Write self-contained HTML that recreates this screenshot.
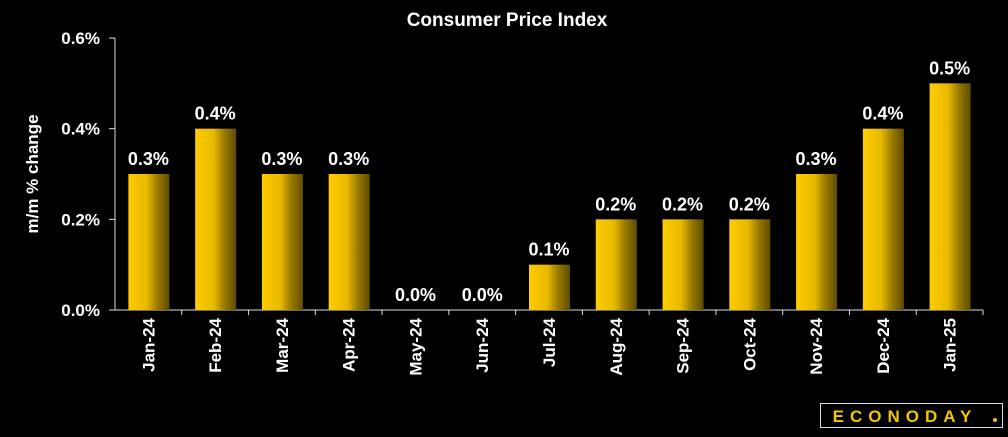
<!DOCTYPE html>
<html><head><meta charset="utf-8"><style>
body{margin:0;background:#000;width:1008px;height:432px;overflow:hidden;font-family:"Liberation Sans",sans-serif}
svg text{font-family:"Liberation Sans",sans-serif;font-weight:bold;fill:#fff}
</style></head><body>
<svg id="c" width="1008" height="432">
<defs><linearGradient id="g" x1="0" x2="1" y1="0" y2="0">
<stop offset="0" stop-color="#ffcc00"/><stop offset="0.45" stop-color="#e8b900"/><stop offset="0.7" stop-color="#9c7d00"/><stop offset="1" stop-color="#5e4c00"/></linearGradient></defs>
<text x="507" y="26" text-anchor="middle" font-size="19">Consumer Price Index</text>
<text transform="translate(38,174) rotate(-90)" text-anchor="middle" font-size="17">m/m % change</text>
<g id="plot"></g>
<g>
<rect x="820.5" y="403.5" width="182" height="24" fill="#000" stroke="#ddd" stroke-width="1"/>
<text x="905" y="422" text-anchor="middle" font-size="17" letter-spacing="6" style="fill:#f2c500">ECONODAY</text>
<circle cx="995" cy="420" r="2" fill="#f2c500"/>
</g>
</svg>
<script>
const categories=["Jan-24","Feb-24","Mar-24","Apr-24","May-24","Jun-24","Jul-24","Aug-24","Sep-24","Oct-24","Nov-24","Dec-24","Jan-25"];
const values=[0.3,0.4,0.3,0.3,0.0,0.0,0.1,0.2,0.2,0.2,0.3,0.4,0.5];
const yTicks=[0,0.2,0.4,0.6];
const yTickLabels=["0.0%","0.2%","0.4%","0.6%"];
const X0=115,X1=983,Y0=310,Y1=38,YMAX=0.6;
const bw=(X1-X0)/categories.length;
const y=v=>Y0-(v/YMAX)*(Y0-Y1);
const xb=i=>X0+i*bw;
const ns="http://www.w3.org/2000/svg",p=document.getElementById('plot');
function mk(t,a){const e=document.createElementNS(ns,t);for(const k in a)e.setAttribute(k,a[k]);p.appendChild(e);return e;}
yTicks.forEach((t,i)=>{
 const l=mk('line',{x1:109,x2:X0,y1:y(t),y2:y(t),stroke:'#ddd'});
 
 
 const tx=mk('text',{x:100,y:y(t)+6,'text-anchor':'end','font-size':17});tx.textContent=yTickLabels[i];
 
 
});
const ax=mk('line',{x1:X0,x2:X0,y1:Y1,y2:Y0,stroke:'#ddd'});


const bx=mk('line',{x1:X0,x2:X1,y1:Y0,y2:Y0,stroke:'#ddd'});


categories.forEach((c,i)=>{
 const t=mk('line',{x1:xb(i+1),x2:xb(i+1),y1:Y0,y2:Y0+5,stroke:'#ddd'});
 
 
 const v=values[i],cx=xb(i)+bw/2;
 const r=mk('rect',{x:cx-20,y:y(v),width:41,height:Y0-y(v),fill:'url(#g)'});
 
 
 const lb=mk('text',{x:cx,y:y(v)-9,'text-anchor':'middle','font-size':18});lb.textContent=v.toFixed(1)+'%';
 
 
 const xl=mk('text',{transform:`translate(${cx+6},318) rotate(-90)`,'text-anchor':'end','font-size':17});xl.textContent=c;
 
 
});
</script>
</body></html>
